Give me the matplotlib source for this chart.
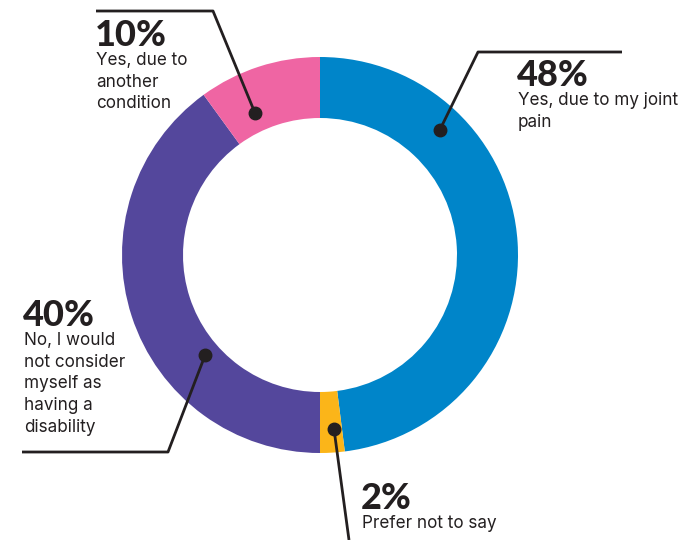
import numpy as np
import matplotlib
matplotlib.use("Agg")
import matplotlib.pyplot as plt

# Respuestas (porcentaje) en orden horario desde las 12
valores = [48, 2, 40, 10]
colores = ["#0085C9", "#FBB519", "#54479C", "#EF65A3"]
etiquetas_pct = ["48%", "2%", "40%", "10%"]
etiquetas_txt = [
    "Yes, due to my joint\npain",
    "Prefer not to say",
    "No, I would\nnot consider\nmyself as\nhaving a\ndisability",
    "Yes, due to\nanother\ncondition",
]

TINTA = "#231F20"
CENTRO = (320, 255)
RADIO = 198
ANCHO = 61

fig = plt.figure(figsize=(6.84, 5.40), dpi=100)
ax = fig.add_axes([0, 0, 1, 1])

# El eje y está invertido, así que la torta se dibuja con counterclock=True
# para que visualmente avance en sentido horario desde arriba
ax.pie(valores, colors=colores, startangle=-90, counterclock=True,
       center=CENTRO, radius=RADIO, frame=True,
       wedgeprops=dict(width=ANCHO, linewidth=0))
ax.set_xlim(0, 684)
ax.set_ylim(540, 0)
ax.set_aspect("equal")
ax.axis("off")

# Líneas guía: punto sobre el anillo, codo y tramo horizontal
guias = [
    # (ángulo del punto, radio del punto, codo, fin)
    (46.2, 173, (478, 52), (622, 52)),
    (274.6, 175, (349, 540), None),
    (221.0, 152, (168, 452), (22, 452)),
    (114.6, 156, (213, 11), (96, 11)),
]
for ang, r, codo, fin in guias:
    px = CENTRO[0] + r * np.cos(np.radians(ang))
    py = CENTRO[1] - r * np.sin(np.radians(ang))
    xs = [px, codo[0]] + ([fin[0]] if fin else [])
    ys = [py, codo[1]] + ([fin[1]] if fin else [])
    ax.plot(xs, ys, color=TINTA, lw=2, solid_capstyle="butt", zorder=3)
    ax.plot(px, py, "o", color=TINTA, ms=9, zorder=4)

# Posición (x, y superior) de cada bloque de texto
posiciones = [(517, 59), (361, 482), (23, 299), (95, 19)]
for (x, y), pct, txt in zip(posiciones, etiquetas_pct, etiquetas_txt):
    ax.text(x, y, pct, fontsize=26, fontweight="black", family="Lato",
            color=TINTA, va="top", ha="left")
    ax.text(x + 1, y + 33, txt, fontsize=12.3, family="Inter",
            color=TINTA, va="top", ha="left", linespacing=1.36)

fig.savefig("out.png", dpi=100)
